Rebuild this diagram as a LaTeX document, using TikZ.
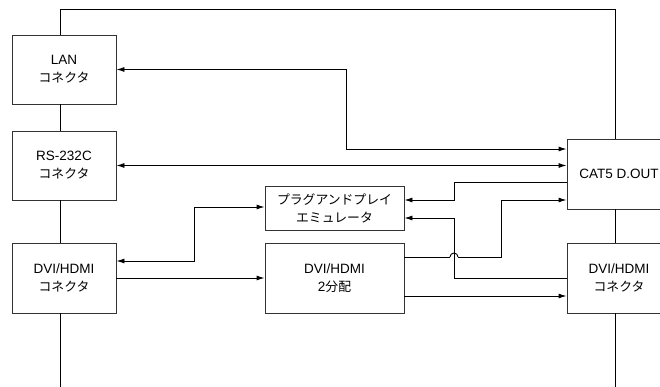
\documentclass[tikz,border=0pt]{standalone}
\usepackage{fontspec}
\setmainfont{Liberation Sans}
\newfontfamily\jp[Scale=0.95]{Noto Sans CJK JP}
\usetikzlibrary{arrows.meta}
\begin{document}
\begin{tikzpicture}[x=1pt,y=-1pt,
  box/.style={draw=black!80,line width=0.9pt,rectangle,inner sep=0pt,align=center,
    font=\fontsize{13.5}{18}\selectfont},
  wire/.style={line width=0.9pt,black},
  arr/.style={-{Latex[length=8pt,width=5pt]}},
  barr/.style={{Latex[length=8pt,width=5pt]}-{Latex[length=8pt,width=5pt]}}]
\useasboundingbox (0,0) rectangle (660,387);
\node[box,minimum width=104pt,minimum height=69pt] (lan) at (64,69.5) {LAN\\{\jp コネクタ}};
\node[box,minimum width=104pt,minimum height=69pt] (rs) at (64,165.5) {RS-232C\\{\jp コネクタ}};
\node[box,minimum width=104pt,minimum height=70pt] (dvil) at (64,278) {DVI/HDMI\\{\jp コネクタ}};
\node[box,minimum width=139pt,minimum height=44pt] (prag) at (334.5,208) {{\jp プラグアンドプレイ}\\{\jp エミュレータ}};
\node[box,minimum width=139pt,minimum height=70pt] (split) at (334.5,278) {DVI/HDMI\\2{\jp 分配}};
\node[box,minimum width=104pt,minimum height=70pt] (cat5) at (619,174) {CAT5 D.OUT};
\node[box,minimum width=104pt,minimum height=70pt] (dvir) at (619,278) {DVI/HDMI\\{\jp コネクタ}};
\coordinate (bl) at (60,387);
\coordinate (br) at (615,387);
\coordinate (hopa) at (450,257);
\coordinate (hopb) at (458,257);
% outer loop
\draw[wire] (lan.north -| 60,0) -- (60,9) -- (615,9) -- (cat5.north -| 615,0);
\draw[wire] (lan.south -| 60,0) -- (rs.north -| 60,0);
\draw[wire] (rs.south -| 60,0) -- (dvil.north -| 60,0);
\draw[wire] (dvil.south -| 60,0) -- (bl);
\draw[wire] (cat5.south -| 615,0) -- (dvir.north -| 615,0);
\draw[wire] (dvir.south -| 615,0) -- (br);
% connectors
\draw[wire,barr] (lan.east) -| (346,149) -- (cat5.west |- 0,149);
\draw[wire,barr] (rs.east) -- (cat5.west |- rs.east);
\draw[wire,barr] (dvil.east |- 0,261) -| (194,207) -- (prag.west |- 0,207);
\draw[wire,arr] (dvil.east) -- (split.west);
\draw[wire,arr] (cat5.west |- 0,182) -| (454,200) -- (prag.east |- 0,200);
\draw[wire,arr] (dvir.west) -| (454,218) -- (prag.east |- 0,218);
\draw[wire] (split.east |- 0,257) -- (hopa);
\draw[wire] (hopa) arc[start angle=180,end angle=0,radius=4pt];
\draw[wire,arr] (hopb) -- (501,257) -- (501,200) -- (cat5.west |- 0,200);
\draw[wire,arr] (split.east |- 0,296) -- (dvir.west |- 0,296);
\end{tikzpicture}
\end{document}
